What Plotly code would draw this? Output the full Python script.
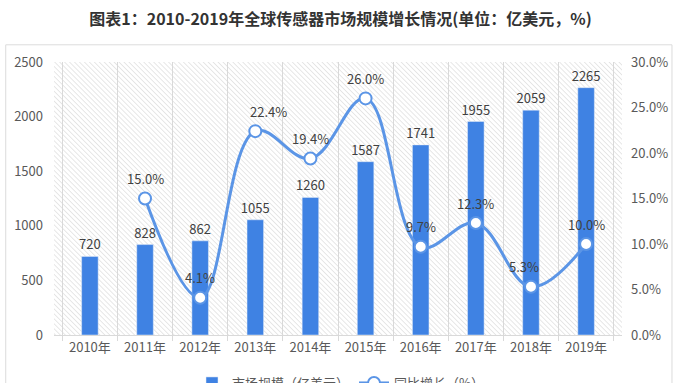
import base64
import plotly.graph_objects as go

years = ["2010年", "2011年", "2012年", "2013年", "2014年", "2015年", "2016年", "2017年", "2018年", "2019年"]
market_size = [720, 828, 862, 1055, 1260, 1587, 1741, 1955, 2059, 2265]
growth = [None, 15.0, 4.1, 22.4, 19.4, 26.0, 9.7, 12.3, 5.3, 10.0]
growth_labels = ["", "15.0%", "4.1%", "22.4%", "19.4%", "26.0%", "9.7%", "12.3%", "5.3%", "10.0%"]
label_xshift = [0, 0, 0, 13, 0, 0, 0, 0, -7, 0]

BAR = "#3f82e3"
LINE = "#5b95e6"
TXT = "#404040"
FONT = "Noto Sans CJK SC"

svg = ('<svg xmlns="http://www.w3.org/2000/svg" width="568" height="273">'
       '<defs><pattern id="p" width="3.5" height="3.5" patternUnits="userSpaceOnUse" '
       'patternTransform="rotate(-45)"><line x1="0" y1="0" x2="0" y2="3.5" '
       'stroke="#cfcfcf" stroke-width="1"/></pattern></defs>'
       '<rect width="100%" height="100%" fill="url(#p)"/></svg>')
svg_uri = "data:image/svg+xml;base64," + base64.b64encode(svg.encode()).decode()

fig = go.Figure()
fig.add_trace(go.Bar(
    x=years, y=market_size, name="市场规模（亿美元）",
    marker_color=BAR, width=0.3,
    text=[str(v) for v in market_size], textposition="outside", constraintext="none",
    textfont=dict(size=13, color=TXT, family=FONT), cliponaxis=False,
))
fig.add_trace(go.Scatter(
    x=years, y=growth, name="同比增长（%）", yaxis="y2",
    mode="lines+markers", line=dict(color=LINE, width=3, shape="spline", smoothing=1.1),
    marker=dict(size=12, color="white", line=dict(color=LINE, width=2)),
    cliponaxis=False, connectgaps=False,
))

annotations = []
for yr, val, lab, dx in zip(years, growth, growth_labels, label_xshift):
    if val is None:
        continue
    annotations.append(dict(x=yr, y=val, xref="x", yref="y2", text=lab, showarrow=False,
                            yshift=20, xshift=dx,
                            font=dict(size=13, color=TXT, family=FONT)))

fig.update_layout(
    width=681, height=383,
    margin=dict(l=54, r=59, t=62, b=48),
    paper_bgcolor="white", plot_bgcolor="rgba(0,0,0,0)",
    font=dict(family=FONT, color="#595959", size=13),
    title=dict(text="<b>图表1：2010-2019年全球传感器市场规模增长情况(单位：亿美元，%)</b>",
               x=0.5, xanchor="center", y=0.95, yanchor="middle",
               font=dict(size=16, color="#333333", family=FONT)),
    showlegend=True,
    legend=dict(orientation="h", xref="container", yref="container", x=0.5, xanchor="center",
                y=0.0, yanchor="middle", font=dict(size=13, color="#595959", family=FONT)),
    xaxis=dict(type="category", tickson="boundaries", showgrid=True, gridcolor="#d9d9d9",
               gridwidth=1, showline=True, linecolor="#d9d9d9", ticks="outside", ticklen=5,
               tickcolor="#d9d9d9", tickfont=dict(size=13, color="#595959")),
    yaxis=dict(range=[0, 2500], dtick=500, showgrid=False, zeroline=False,
               ticklabelstandoff=10, tickfont=dict(size=13, color="#595959")),
    yaxis2=dict(range=[0, 30], dtick=5, overlaying="y", side="right", showgrid=False,
                zeroline=False, ticksuffix="%", tickformat=".1f", ticklabelstandoff=8,
                tickfont=dict(size=13, color="#595959")),
    images=[dict(source=svg_uri, xref="paper", yref="paper", x=0, y=1, sizex=1, sizey=1,
                 xanchor="left", yanchor="top", sizing="stretch", layer="below")],
    shapes=[dict(type="rect", xref="paper", yref="paper", x0=-0.085, x1=1.088, y0=-0.25, y1=1.063,
                 line=dict(color="#dcdcdc", width=1), fillcolor="rgba(0,0,0,0)", layer="below")],
    annotations=annotations,
)

fig.write_html("out.html", config={"displayModeBar": False},
               post_script="document.body.style.margin='0';")
